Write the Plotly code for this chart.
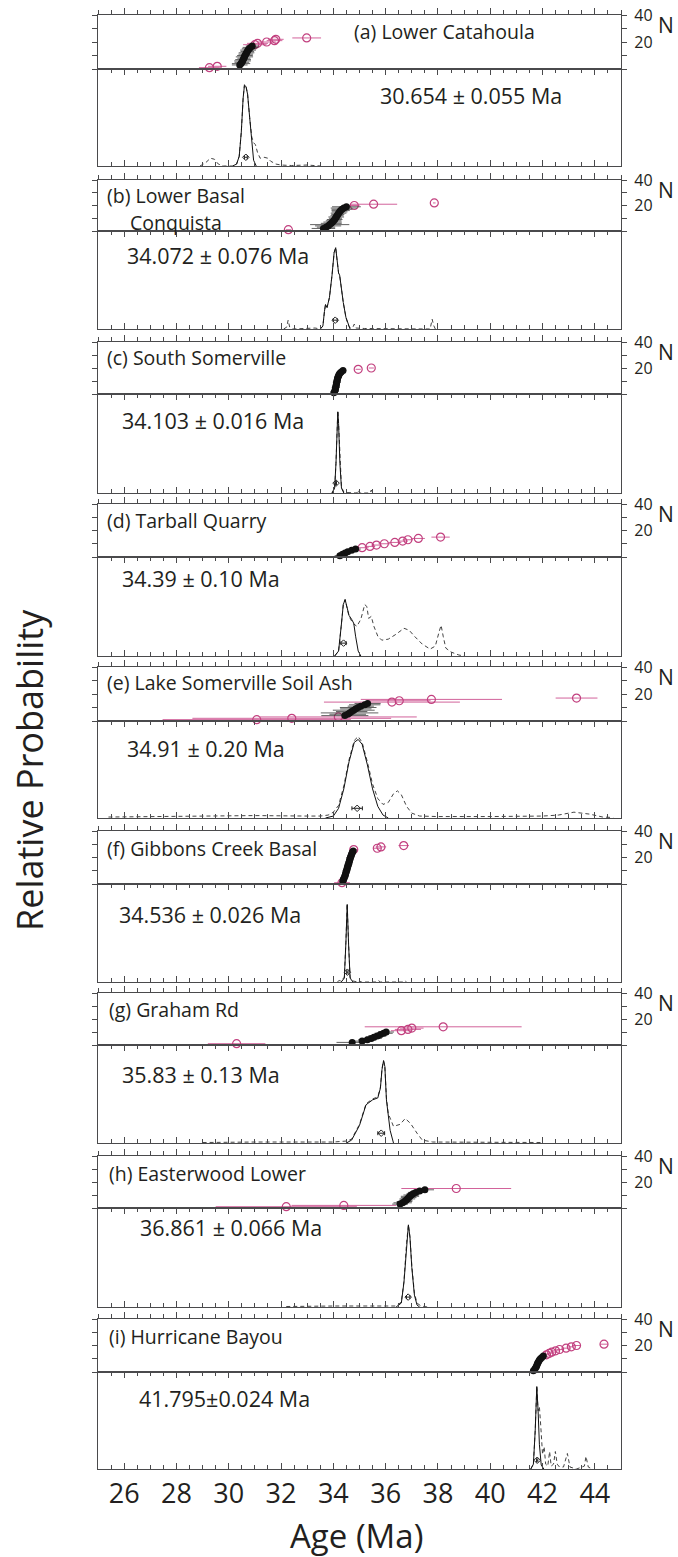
import plotly.graph_objects as go

# ---------------- panel text ----------------
titles = ["(a) Lower Catahoula", "(b) Lower Basal", "(c) South Somerville", "(d) Tarball Quarry",
          "(e) Lake Somerville Soil Ash", "(f) Gibbons Creek Basal", "(g) Graham Rd",
          "(h) Easterwood Lower", "(i) Hurricane Bayou"]
subtitle_b = "Conquista"
age_text = ["30.654 ± 0.055 Ma", "34.072 ± 0.076 Ma", "34.103 ± 0.016 Ma", "34.39 ± 0.10 Ma",
            "34.91 ± 0.20 Ma", "34.536 ± 0.026 Ma", "35.83 ± 0.13 Ma", "36.861 ± 0.066 Ma",
            "41.795±0.024 Ma"]
mean_age = [30.654, 34.072, 34.103, 34.39, 34.91, 34.536, 35.83, 36.861, 41.795]
mean_err = [0.055, 0.076, 0.016, 0.10, 0.20, 0.026, 0.13, 0.066, 0.024]
mean_level = [0.09, 0.09, 0.10, 0.13, 0.10, 0.10, 0.10, 0.10, 0.09]

n_ticks = [0, 10, 20, 30, 40]
n_tick_text = ["", "", "20", "", "40"]

# ---------------- single-grain ages (Ma) and 2-sigma errors ----------------
# kept grains (black) and rejected grains (magenta)
kept_a = [30.42, 30.47, 30.50, 30.53, 30.55, 30.58, 30.60, 30.62, 30.65, 30.68, 30.71, 30.74, 30.78, 30.83, 30.90]
kept_err_a = [0.30, 0.35, 0.28, 0.32, 0.30, 0.25, 0.33, 0.30, 0.28, 0.30, 0.26, 0.30, 0.28, 0.30, 0.25]
rej_a = [29.26, 29.56, 31.00, 31.10, 31.45, 31.75, 31.80, 32.98]
rej_err_a = [0.40, 0.35, 0.45, 0.40, 0.35, 0.30, 0.30, 0.55]

kept_b = [33.62, 33.72, 33.80, 33.86, 33.92, 33.97, 34.01, 34.05, 34.08, 34.11, 34.14, 34.17, 34.20, 34.24, 34.28, 34.33, 34.40, 34.50]
kept_err_b = [0.45, 0.35, 0.50, 0.75, 0.40, 0.35, 0.30, 0.30, 0.25, 0.30, 0.25, 0.25, 0.30, 0.30, 0.35, 0.40, 0.50, 0.55]
rej_b = [32.28, 34.80, 35.54, 37.86]
rej_err_b = [0.10, 0.20, 0.90, 0.05]

kept_c = [34.02, 34.05, 34.07, 34.08, 34.09, 34.10, 34.11, 34.12, 34.13, 34.14, 34.15, 34.16, 34.18, 34.20, 34.22, 34.25, 34.30, 34.37]
kept_err_c = [0.12, 0.15, 0.12, 0.10, 0.15, 0.12, 0.10, 0.12, 0.15, 0.12, 0.10, 0.12, 0.15, 0.12, 0.10, 0.12, 0.15, 0.12]
rej_c = [34.95, 35.45]
rej_err_c = [0.10, 0.10]

kept_d = [34.25, 34.35, 34.45, 34.55, 34.70, 34.85]
kept_err_d = [0.20, 0.20, 0.18, 0.20, 0.22, 0.20]
rej_d = [35.10, 35.40, 35.65, 35.95, 36.35, 36.65, 36.85, 37.25, 38.10]
rej_err_d = [0.25, 0.20, 0.20, 0.22, 0.25, 0.20, 0.20, 0.25, 0.35]

kept_e = [34.44, 34.55, 34.62, 34.70, 34.78, 34.86, 34.95, 35.05, 35.20, 35.31]
kept_err_e = [0.90, 0.70, 1.10, 0.60, 0.80, 0.60, 0.70, 0.50, 0.60, 0.50]
rej_e = [31.07, 32.41, 34.19, 36.24, 36.52, 37.75, 43.30]
rej_err_e = [3.60, 3.80, 3.00, 2.60, 1.20, 2.70, 0.80]

kept_f = [34.36, 34.38, 34.40, 34.42, 34.44, 34.46, 34.47, 34.49, 34.50, 34.52, 34.53, 34.55,
          34.56, 34.58, 34.59, 34.61, 34.62, 34.64, 34.65, 34.67, 34.69, 34.71, 34.73, 34.76]
kept_err_f = [0.12, 0.10, 0.12, 0.15, 0.10, 0.12, 0.10, 0.12, 0.15, 0.10, 0.12, 0.10,
              0.12, 0.15, 0.10, 0.12, 0.10, 0.12, 0.15, 0.10, 0.12, 0.10, 0.12, 0.15]
rej_f = [34.33, 34.78, 35.68, 35.82, 36.69]
rej_err_f = [0.30, 0.15, 0.15, 0.20, 0.20]

kept_g = [34.72, 35.10, 35.30, 35.45, 35.55, 35.68, 35.80, 35.92, 36.02]
kept_err_g = [0.60, 0.40, 0.35, 0.40, 0.30, 0.35, 0.30, 0.35, 0.30]
rej_g = [30.30, 36.60, 36.85, 37.00, 38.20]
rej_err_g = [1.10, 0.40, 0.50, 0.45, 3.00]

kept_h = [36.55, 36.65, 36.72, 36.78, 36.83, 36.88, 36.93, 36.98, 37.05, 37.15, 37.30, 37.50]
kept_err_h = [0.30, 0.35, 0.30, 0.25, 0.30, 0.30, 0.35, 0.30, 0.25, 0.30, 0.30, 0.35]
rej_h = [32.20, 34.40, 38.70]
rej_err_h = [2.70, 2.00, 2.10]

kept_i = [41.65, 41.70, 41.73, 41.76, 41.78, 41.80, 41.82, 41.85, 41.88, 41.92, 41.97, 42.03]
kept_err_i = [0.10, 0.12, 0.10, 0.10, 0.12, 0.10, 0.10, 0.12, 0.10, 0.10, 0.12, 0.10]
rej_i = [42.15, 42.25, 42.35, 42.50, 42.65, 42.90, 43.10, 43.30, 44.35]
rej_err_i = [0.12, 0.10, 0.12, 0.15, 0.12, 0.15, 0.12, 0.15, 0.15]

# ---------------- relative probability curves ----------------
# solid: kept grains, dashed: all grains
pdf_x_a = [30.15, 30.30, 30.40, 30.48, 30.55, 30.60, 30.66, 30.72, 30.80, 30.88, 30.95, 31.05]
pdf_y_a = [0.00, 0.02, 0.10, 0.35, 0.70, 0.83, 0.82, 0.74, 0.50, 0.22, 0.06, 0.00]
all_x_a = [28.90, 29.10, 29.30, 29.45, 29.60, 29.80, 30.15, 30.30, 30.40, 30.48, 30.55, 30.60, 30.66, 30.72,
           30.80, 30.88, 30.95, 31.02, 31.10, 31.20, 31.35, 31.50, 31.60, 31.80, 32.00, 32.40, 33.00, 33.30, 33.50]
all_y_a = [0.00, 0.03, 0.08, 0.07, 0.02, 0.00, 0.00, 0.02, 0.10, 0.35, 0.70, 0.84, 0.82, 0.74,
           0.50, 0.30, 0.24, 0.22, 0.14, 0.08, 0.09, 0.08, 0.05, 0.02, 0.01, 0.005, 0.01, 0.005, 0.00]

pdf_x_b = [33.50, 33.60, 33.66, 33.70, 33.76, 33.85, 33.95, 34.03, 34.09, 34.14, 34.20, 34.24, 34.30, 34.38, 34.48, 34.57, 34.64]
pdf_y_b = [0.00, 0.03, 0.18, 0.25, 0.22, 0.32, 0.55, 0.78, 0.83, 0.72, 0.57, 0.55, 0.42, 0.27, 0.12, 0.04, 0.00]
all_x_b = [32.10, 32.22, 32.27, 32.33, 32.45, 33.00, 33.30, 33.50, 33.60, 33.66, 33.70, 33.76, 33.85, 33.95, 34.03, 34.09,
           34.14, 34.20, 34.24, 34.30, 34.38, 34.48, 34.57, 34.64, 34.75, 34.80, 34.86, 35.20, 35.60, 36.00,
           37.70, 37.78, 37.83, 37.90]
all_y_b = [0.00, 0.02, 0.09, 0.02, 0.00, 0.01, 0.01, 0.00, 0.03, 0.18, 0.25, 0.22, 0.32, 0.55, 0.78, 0.83,
           0.72, 0.57, 0.55, 0.42, 0.27, 0.12, 0.04, 0.01, 0.02, 0.05, 0.01, 0.005, 0.005, 0.00,
           0.00, 0.10, 0.04, 0.00]

pdf_x_c = [33.95, 34.05, 34.10, 34.14, 34.17, 34.20, 34.25, 34.31, 34.40]
pdf_y_c = [0.00, 0.05, 0.30, 0.70, 0.82, 0.70, 0.30, 0.05, 0.00]
all_x_c = [33.95, 34.05, 34.10, 34.14, 34.17, 34.20, 34.25, 34.31, 34.40, 34.50, 34.90, 34.95, 35.00, 35.40, 35.45, 35.50]
all_y_c = [0.00, 0.05, 0.30, 0.70, 0.83, 0.71, 0.32, 0.06, 0.01, 0.005, 0.00, 0.03, 0.00, 0.00, 0.03, 0.00]

pdf_x_d = [34.05, 34.20, 34.30, 34.38, 34.45, 34.52, 34.60, 34.70, 34.78, 34.85, 34.95, 35.05]
pdf_y_d = [0.00, 0.05, 0.30, 0.52, 0.57, 0.50, 0.41, 0.37, 0.33, 0.20, 0.05, 0.00]
all_x_d = [34.05, 34.20, 34.30, 34.38, 34.45, 34.52, 34.60, 34.75, 34.90, 35.05, 35.20, 35.28, 35.35, 35.45, 35.55,
           35.70, 35.85, 36.10, 36.40, 36.70, 36.90, 37.10, 37.40, 37.70, 37.90, 38.05, 38.12, 38.20, 38.30, 38.50,
           38.80, 39.00]
all_y_d = [0.00, 0.05, 0.30, 0.52, 0.57, 0.49, 0.40, 0.33, 0.30, 0.37, 0.52, 0.50, 0.38, 0.40, 0.30,
           0.20, 0.16, 0.17, 0.22, 0.28, 0.26, 0.20, 0.12, 0.07, 0.10, 0.25, 0.31, 0.20, 0.08, 0.04,
           0.01, 0.00]

pdf_x_e = [33.70, 34.00, 34.20, 34.40, 34.60, 34.80, 34.95, 35.10, 35.30, 35.50, 35.70, 35.90, 36.10]
pdf_y_e = [0.00, 0.02, 0.10, 0.30, 0.58, 0.78, 0.81, 0.76, 0.55, 0.30, 0.12, 0.03, 0.00]
all_x_e = [25.40, 27.00, 29.00, 31.00, 33.00, 33.50, 33.80, 34.00, 34.20, 34.40, 34.60, 34.80, 34.95, 35.10, 35.30,
           35.50, 35.70, 35.90, 36.10, 36.30, 36.45, 36.60, 36.80, 37.00, 37.30, 38.00, 40.00, 42.00, 42.60,
           43.20, 43.80, 44.30, 44.70]
all_y_e = [0.01, 0.015, 0.02, 0.025, 0.02, 0.02, 0.03, 0.06, 0.13, 0.33, 0.60, 0.80, 0.84, 0.78, 0.58,
           0.35, 0.20, 0.14, 0.16, 0.25, 0.28, 0.24, 0.12, 0.05, 0.02, 0.015, 0.015, 0.02, 0.03,
           0.06, 0.04, 0.01, 0.005]

pdf_x_f = [34.30, 34.42, 34.48, 34.53, 34.58, 34.64, 34.75]
pdf_y_f = [0.00, 0.04, 0.40, 0.79, 0.40, 0.04, 0.00]
all_x_f = [34.15, 34.22, 34.30, 34.42, 34.48, 34.53, 34.58, 34.64, 34.75, 34.95, 35.00, 35.05, 35.65, 35.72, 35.80,
           36.65, 36.72, 36.80]
all_y_f = [0.00, 0.015, 0.01, 0.05, 0.41, 0.80, 0.41, 0.05, 0.01, 0.00, 0.015, 0.00, 0.00, 0.015, 0.00,
           0.00, 0.015, 0.00]

pdf_x_g = [34.50, 34.70, 35.00, 35.25, 35.50, 35.70, 35.80, 35.86, 35.92, 35.97, 36.03, 36.10, 36.17, 36.30]
pdf_y_g = [0.00, 0.03, 0.18, 0.39, 0.44, 0.46, 0.56, 0.75, 0.84, 0.78, 0.44, 0.25, 0.13, 0.00]
all_x_g = [29.00, 30.00, 31.00, 32.00, 33.00, 34.00, 34.50, 34.70, 35.00, 35.25, 35.50, 35.70, 35.80, 35.86, 35.92,
           35.97, 36.03, 36.10, 36.30, 36.55, 36.75, 36.95, 37.20, 37.40, 37.80, 39.00, 40.50, 42.00]
all_y_g = [0.005, 0.01, 0.01, 0.01, 0.01, 0.01, 0.02, 0.04, 0.19, 0.40, 0.45, 0.47, 0.57, 0.76, 0.84,
           0.78, 0.46, 0.30, 0.17, 0.19, 0.25, 0.20, 0.10, 0.03, 0.01, 0.01, 0.01, 0.005]

pdf_x_h = [36.40, 36.60, 36.70, 36.80, 36.87, 36.93, 37.00, 37.10, 37.20, 37.30]
pdf_y_h = [0.00, 0.04, 0.25, 0.65, 0.83, 0.70, 0.40, 0.12, 0.02, 0.00]
all_x_h = [32.20, 33.00, 34.00, 35.00, 36.00, 36.40, 36.60, 36.70, 36.80, 36.87, 36.93, 37.00, 37.10, 37.20, 37.35, 37.60]
all_y_h = [0.005, 0.01, 0.01, 0.01, 0.01, 0.01, 0.05, 0.26, 0.65, 0.83, 0.71, 0.42, 0.14, 0.04, 0.01, 0.00]

pdf_x_i = [41.55, 41.65, 41.72, 41.78, 41.83, 41.88, 41.95, 42.05]
pdf_y_i = [0.00, 0.05, 0.40, 0.85, 0.60, 0.25, 0.04, 0.00]
all_x_i = [41.55, 41.65, 41.72, 41.78, 41.83, 41.88, 41.93, 42.00, 42.06, 42.12, 42.20, 42.27, 42.33, 42.42, 42.49,
           42.56, 42.65, 42.80, 42.95, 43.05, 43.30, 43.60, 43.66, 43.75, 43.90]
all_y_i = [0.00, 0.05, 0.40, 0.85, 0.60, 0.64, 0.45, 0.15, 0.23, 0.05, 0.03, 0.18, 0.03, 0.05, 0.18,
           0.05, 0.02, 0.02, 0.16, 0.02, 0.00, 0.03, 0.13, 0.02, 0.00]

kept = [kept_a, kept_b, kept_c, kept_d, kept_e, kept_f, kept_g, kept_h, kept_i]
kept_err = [kept_err_a, kept_err_b, kept_err_c, kept_err_d, kept_err_e, kept_err_f, kept_err_g, kept_err_h, kept_err_i]
rej = [rej_a, rej_b, rej_c, rej_d, rej_e, rej_f, rej_g, rej_h, rej_i]
rej_err = [rej_err_a, rej_err_b, rej_err_c, rej_err_d, rej_err_e, rej_err_f, rej_err_g, rej_err_h, rej_err_i]
pdf_x = [pdf_x_a, pdf_x_b, pdf_x_c, pdf_x_d, pdf_x_e, pdf_x_f, pdf_x_g, pdf_x_h, pdf_x_i]
pdf_y = [pdf_y_a, pdf_y_b, pdf_y_c, pdf_y_d, pdf_y_e, pdf_y_f, pdf_y_g, pdf_y_h, pdf_y_i]
all_x = [all_x_a, all_x_b, all_x_c, all_x_d, all_x_e, all_x_f, all_x_g, all_x_h, all_x_i]
all_y = [all_y_a, all_y_b, all_y_c, all_y_d, all_y_e, all_y_f, all_y_g, all_y_h, all_y_i]

# ---------------- layout geometry (pixels) ----------------
W, H = 678, 1557
L, R = 98, 621
TOP, BOT = 15, 1469
panel_top = [15, 180, 342, 504, 667, 831, 993, 1156, 1319]
panel_mid = [69, 231, 394, 557, 721, 884, 1045, 1208, 1372]
panel_bot = [166, 329, 493, 656, 818, 982, 1143, 1307, 1469]
title_pos = [(352, 32), (105, 195), (105, 358), (105, 520), (105, 682), (105, 848), (107, 1010), (107, 1173), (107, 1336)]
age_pos = [(378, 95), (125, 255), (120, 420), (120, 578), (125, 748), (117, 914), (120, 1074), (138, 1227), (137, 1398)]

AX = "#4a4a4c"
INK = "#231f20"
MAG = "#c2407f"
MAG_BAR = "#d2639b"
FONT = "Open Sans"


def px_x(p):
    return (p - L) / (R - L)


def px_y(p):
    return (BOT - p) / (BOT - TOP)


fig = go.Figure()
layout = {}


def axname(n):
    return "" if n == 1 else str(n)


for k in range(9):
    nt, nb = 2 * k + 1, 2 * k + 2
    # rank order of all grains
    grains = [(a, e, True) for a, e in zip(kept[k], kept_err[k])] + \
             [(a, e, False) for a, e in zip(rej[k], rej_err[k])]
    grains.sort(key=lambda g: g[0])
    kx, ke, ky, rx, re_, ry = [], [], [], [], [], []
    for r, (a, e, ok) in enumerate(grains, start=1):
        if ok:
            kx.append(a); ke.append(e); ky.append(r)
        else:
            rx.append(a); re_.append(e); ry.append(r)

    xt, yt = "x" + axname(nt), "y" + axname(nt)
    xb, yb = "x" + axname(nb), "y" + axname(nb)

    fig.add_trace(go.Scatter(
        x=rx, y=ry, mode="markers", xaxis=xt, yaxis=yt, cliponaxis=False, showlegend=False,
        marker=dict(symbol="circle-open", size=8, color=MAG, line=dict(width=1.2, color=MAG)),
        error_x=dict(type="data", array=re_, color=MAG_BAR, thickness=1, width=0)))
    fig.add_trace(go.Scatter(
        x=kx, y=ky, mode="markers", xaxis=xt, yaxis=yt, cliponaxis=False, showlegend=False,
        marker=dict(symbol="circle", size=7, color="#111111", line=dict(width=0)),
        error_x=dict(type="data", array=ke, color="#3a3a3a", thickness=0.8, width=0)))

    fig.add_trace(go.Scatter(
        x=all_x[k], y=all_y[k], mode="lines", xaxis=xb, yaxis=yb, showlegend=False,
        line=dict(color="#444444", width=1, dash="4px,3px")))
    fig.add_trace(go.Scatter(
        x=pdf_x[k], y=pdf_y[k], mode="lines", xaxis=xb, yaxis=yb, showlegend=False,
        line=dict(color="#111111", width=1)))
    fig.add_trace(go.Scatter(
        x=[mean_age[k]], y=[mean_level[k]], mode="markers", xaxis=xb, yaxis=yb, showlegend=False,
        marker=dict(symbol="diamond-open", size=5, color="#222222", line=dict(width=1)),
        error_x=dict(type="data", array=[mean_err[k]], color="#222222", thickness=1, width=2)))

    last = (k == 8)
    layout["xaxis" + axname(nt)] = dict(
        domain=[0, 1], range=[25, 45], anchor=yt, side="top", ticks="outside", ticklen=6,
        tickwidth=1.3, tickcolor=AX, tickmode="linear", tick0=26, dtick=2, showticklabels=False,
        showline=True, linecolor=AX, linewidth=1.2, mirror=True, showgrid=False, zeroline=False,
        automargin=False,
        minor=dict(tickmode="linear", tick0=25, dtick=0.5, ticks="outside", ticklen=4,
                   tickwidth=1.1, tickcolor=AX, showgrid=False))
    layout["xaxis" + axname(nb)] = dict(
        domain=[0, 1], range=[25, 45], anchor=yb, side="bottom", ticks="inside", ticklen=6,
        tickwidth=1.3, tickcolor=AX, tickmode="linear", tick0=26, dtick=2, showticklabels=last,
        tickfont=dict(family=FONT, size=27, color=INK), showline=True, linecolor=AX, linewidth=1.2,
        mirror="ticks", showgrid=False, zeroline=False, automargin=False,
        minor=dict(tickmode="linear", tick0=25, dtick=0.5, ticks="inside", ticklen=4,
                   tickwidth=1.1, tickcolor=AX, showgrid=False))
    layout["yaxis" + axname(nt)] = dict(
        domain=[px_y(panel_mid[k]), px_y(panel_top[k])], range=[0, 40], anchor=xt, side="right",
        tickmode="array", tickvals=n_ticks, ticktext=n_tick_text, ticks="outside", ticklen=5,
        tickwidth=1.2, tickcolor=AX, ticklabelstandoff=4, tickfont=dict(family=FONT, size=16, color=INK),
        showline=True, linecolor=AX, linewidth=1.2, mirror="ticks", showgrid=False, zeroline=False,
        automargin=False)
    layout["yaxis" + axname(nb)] = dict(
        domain=[px_y(panel_bot[k]), px_y(panel_mid[k])], range=[0, 1], anchor=xb,
        showticklabels=False, ticks="", showline=True, linecolor=AX, linewidth=1.2, mirror=True,
        showgrid=False, zeroline=False, automargin=False)

annotations = []
for k in range(9):
    tx, ty = title_pos[k]
    annotations.append(dict(text=titles[k], xref="paper", yref="paper", x=px_x(tx), y=px_y(ty),
                            xanchor="left", yanchor="middle", showarrow=False,
                            font=dict(family=FONT, size=19.5, color=INK)))
    ax_, ay_ = age_pos[k]
    annotations.append(dict(text=age_text[k], xref="paper", yref="paper", x=px_x(ax_), y=px_y(ay_),
                            xanchor="left", yanchor="middle", showarrow=False,
                            font=dict(family=FONT, size=21.5, color=INK)))
    annotations.append(dict(text="N", xref="paper", yref="paper", x=px_x(666), y=px_y(panel_top[k] + 10),
                            xanchor="center", yanchor="middle", showarrow=False,
                            font=dict(family=FONT, size=21, color=INK)))
annotations.append(dict(text=subtitle_b, xref="paper", yref="paper", x=px_x(128), y=px_y(222),
                        xanchor="left", yanchor="middle", showarrow=False,
                        font=dict(family=FONT, size=19.5, color=INK)))
annotations.append(dict(text="Relative Probability", xref="paper", yref="paper", x=px_x(29), y=px_y(770),
                        xanchor="center", yanchor="middle", textangle=-90, showarrow=False,
                        font=dict(family=FONT, size=36, color=INK)))
annotations.append(dict(text="Age (Ma)", xref="paper", yref="paper", x=px_x(356), y=px_y(1535),
                        xanchor="center", yanchor="middle", showarrow=False,
                        font=dict(family=FONT, size=33, color=INK)))

fig.update_layout(
    template="none",
    width=W, height=H, margin=dict(l=L, r=W - R, t=TOP, b=H - BOT, pad=0, autoexpand=False),
    paper_bgcolor="white", plot_bgcolor="white", showlegend=False,
    font=dict(family=FONT, color=INK),
    annotations=annotations, **layout)

fig.write_html("out.html")
